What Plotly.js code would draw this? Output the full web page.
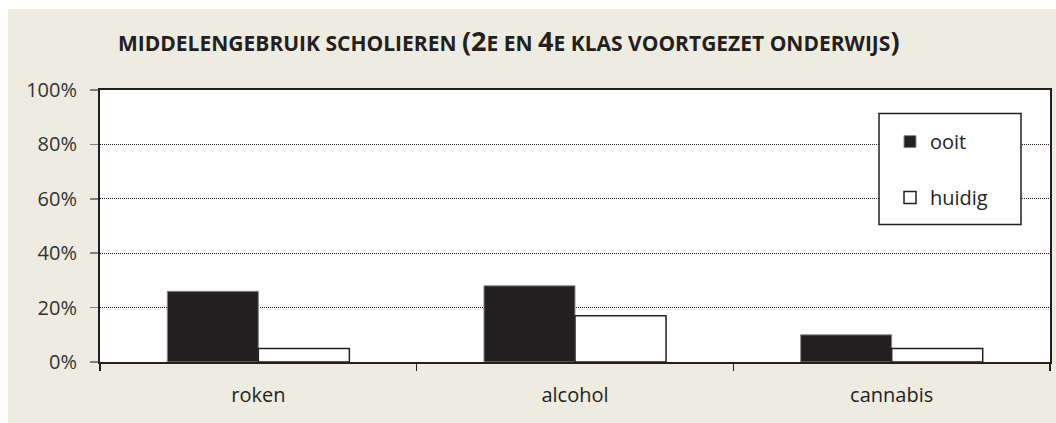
<!DOCTYPE html>
<html>
<head>
<meta charset="utf-8">
<script src="https://cdn.plot.ly/plotly-3.0.1.min.js"></script>
<style>
html,body{margin:0;padding:0;background:#ffffff;}
#chart{position:absolute;left:8px;top:9px;width:1048px;height:414px;}
</style>
</head>
<body>
<div id="chart"></div>
<script>
const categories = ["roken", "alcohol", "cannabis"];
const ooit = [26, 28, 10];
const huidig = [5, 17, 5];
const seriesNames = ["ooit", "huidig"];
const yTickVals = [0, 20, 40, 60, 80, 100];
const yTickText = ["0%", "20%", "40%", "60%", "80%", "100%"];
const titleText = "MIDDELENGEBRUIK SCHOLIEREN <span style='font-size:27px'>(2</span>E EN <span style='font-size:27px'>4</span>E KLAS VOORTGEZET ONDERWIJS<span style='font-size:27px'>)</span>";

const ink = "#231F20";
const font = "Open Sans, Noto Sans, sans-serif";

const traces = [
  {type: "bar", name: seriesNames[0], x: categories, y: ooit, legendgroup: "a",
   marker: {color: ink, line: {color: "#8a8a8a", width: 1}}},
  {type: "bar", name: seriesNames[1], x: categories, y: huidig, legendgroup: "b",
   marker: {color: "#ffffff", line: {color: ink, width: 1.5}}}
];

// plot area in page pixels: x 100..1050, y 90..361.5 ; div offset (8,9)
const layout = {
  width: 1048, height: 414,
  paper_bgcolor: "#EEEBE0", plot_bgcolor: "#ffffff",
  margin: {l: 92, r: 6, t: 81, b: 61},
  font: {family: font, size: 20, color: ink},
  title: {
    text: titleText,
    font: {family: font, size: 21, color: ink, weight: 700},
    xref: "container", yref: "container", x: 110/1048, xanchor: "left",
    y: 1 - 35/414, yanchor: "middle"
  },
  barmode: "group", bargap: 0.425, bargroupgap: 0,
  showlegend: true,
  legend: {
    x: (890-100)/950, y: 0.882, xanchor: "left", yanchor: "top",
    bgcolor: "rgba(0,0,0,0)", borderwidth: 0,
    tracegroupgap: 27, font: {family: font, size: 20, color: ink}
  },
  shapes: [{
    type: "rect", xref: "paper", yref: "paper", layer: "above",
    x0: (879-100)/950, x1: (1021-100)/950,
    y0: (361.5-224)/272, y1: (361.5-113)/272,
    fillcolor: "#ffffff", line: {color: ink, width: 1.5}
  }],
  xaxis: {
    type: "category", showline: true, mirror: true, linecolor: ink, linewidth: 2,
    ticks: "outside", tickson: "boundaries", ticklen: 7, tickcolor: ink, tickwidth: 1.5,
    showgrid: false, tickfont: {family: font, size: 20, color: ink},
    ticklabelstandoff: 14
  },
  yaxis: {
    range: [0, 100], tickvals: yTickVals, ticktext: yTickText,
    showline: true, mirror: true, linecolor: ink, linewidth: 2,
    ticks: "outside", ticklen: 8, tickcolor: "#808080", tickwidth: 1.5,
    showgrid: true, gridcolor: ink, gridwidth: 1, griddash: "1px,1px",
    zeroline: false, tickfont: {family: font, size: 20, color: "#333"},
    ticklabelstandoff: 9
  }
};

Plotly.newPlot("chart", traces, layout, {staticPlot: true, displayModeBar: false});
</script>
</body>
</html>
